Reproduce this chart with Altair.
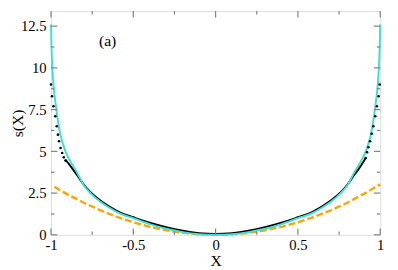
import altair as alt
import pandas as pd

# ---- data ----
cyan_x = [-1.0, -0.997, -0.992, -0.985, -0.97, -0.945, -0.912, -0.88, -0.843, -0.8, -0.76, -0.7, -0.65, -0.58, -0.5, -0.4, -0.3, -0.2, -0.1, 0.0,
          0.1, 0.2, 0.3, 0.4, 0.5, 0.58, 0.65, 0.7, 0.76, 0.8, 0.843, 0.88, 0.912, 0.945, 0.97, 0.985, 0.992, 0.997, 1.0]
cyan_y = [12.6, 11.3, 10.05, 9.0, 7.7, 6.1, 5.0, 4.35, 3.75, 2.95, 2.5, 1.98, 1.65, 1.27, 1.0, 0.64, 0.36, 0.16, 0.04, 0.0,
          0.04, 0.16, 0.36, 0.64, 1.0, 1.27, 1.65, 1.98, 2.5, 2.95, 3.75, 4.35, 5.0, 6.1, 7.7, 9.0, 10.05, 11.3, 12.6]

black_x = [-0.912, -0.88, -0.843, -0.8, -0.76, -0.7, -0.65, -0.58, -0.5, -0.4, -0.3, -0.2, -0.1, 0.0,
           0.1, 0.2, 0.3, 0.4, 0.5, 0.58, 0.65, 0.7, 0.76, 0.8, 0.843, 0.88, 0.912]
black_y = [4.5, 4.1, 3.6, 3.0, 2.55, 2.05, 1.72, 1.33, 1.05, 0.72, 0.45, 0.24, 0.1, 0.05,
           0.1, 0.24, 0.45, 0.72, 1.05, 1.33, 1.72, 2.05, 2.55, 3.0, 3.6, 4.1, 4.6]

dots_x = [-1.0, -0.994, -0.985, -0.974, -0.965, -0.958, -0.951, -0.942, -0.932, -0.922, -0.912,
          0.912, 0.92, 0.928, 0.938, 0.948, 0.958, 0.97, 0.98, 0.99, 0.997]
dots_y = [9.0, 8.3, 7.7, 7.1, 6.5, 6.0, 5.6, 5.2, 4.9, 4.65, 4.45,
          4.6, 4.95, 5.25, 5.6, 6.05, 6.5, 7.1, 7.7, 8.3, 9.0]

orange_x = [-0.98, -0.9, -0.8, -0.7, -0.6, -0.5, -0.4, -0.3, -0.2, -0.1, 0.0,
            0.1, 0.2, 0.3, 0.4, 0.5, 0.6, 0.7, 0.8, 0.9, 1.0]
orange_y = [2.88, 2.42, 1.92, 1.47, 1.08, 0.75, 0.48, 0.27, 0.12, 0.03, 0.0,
            0.03, 0.12, 0.27, 0.48, 0.75, 1.08, 1.47, 1.92, 2.45, 3.02]

x_major = [-1, -0.5, 0, 0.5, 1]
x_minor = [-0.75, -0.25, 0.25, 0.75]
y_major = [0, 2.5, 5, 7.5, 10, 12.5]
y_minor = [1.25, 3.75, 6.25, 8.75, 11.25]
panel_label = ["(a)"]

# ---- chart ----
W, H = 337, 229
FONT = "Liberation Serif"
GREY = "#808080"

xs = alt.Scale(domain=[-1, 1], nice=False, zero=False)
ys = alt.Scale(domain=[0, 13.4], nice=False, zero=False)
xaxis = alt.Axis(values=x_major, tickSize=0, domain=False, grid=False, labelPadding=3,
                 labelFont=FONT, labelFontSize=15, labelColor="black", labelFlush=False,
                 labelOverlap=False, labelExpr="'' + datum.value",
                 title="X", titleFont=FONT, titleFontSize=16, titleFontWeight="normal",
                 titleColor="black", titlePadding=0)
yaxis = alt.Axis(values=y_major, tickSize=0, domain=False, grid=False, labelPadding=5,
                 labelFont=FONT, labelFontSize=15, labelColor="black", labelFlush=False,
                 labelOverlap=False, labelExpr="'' + datum.value",
                 title="s(X)", titleFont=FONT, titleFontSize=16, titleFontWeight="normal",
                 titleColor="black", titlePadding=-5)
X = alt.X("x:Q", scale=xs, axis=xaxis)
Y = alt.Y("y:Q", scale=ys, axis=yaxis)

df_c = pd.DataFrame({"x": cyan_x, "y": cyan_y})
df_b = pd.DataFrame({"x": black_x, "y": black_y})
df_d = pd.DataFrame({"x": dots_x, "y": dots_y})
df_o = pd.DataFrame({"x": orange_x, "y": orange_y})

orange = alt.Chart(df_o).mark_line(color="#FFA500", strokeWidth=2.5, strokeDash=[7, 3]).encode(x=X, y=Y)
black = alt.Chart(df_b).mark_line(color="black", strokeWidth=2, interpolate="monotone").encode(x=X, y=Y)
cyan = alt.Chart(df_c).mark_line(color="#40E0D0", strokeWidth=2, interpolate="monotone").encode(x=X, y=Y)
dots = alt.Chart(df_d).mark_circle(color="black", size=7, opacity=1).encode(x=X, y=Y)

def yticks(vals, length):
    d = pd.DataFrame({"y": vals})
    left = alt.Chart(d).mark_rule(color=GREY, strokeWidth=1.2).encode(y=Y, x=alt.value(0), x2=alt.value(length))
    right = alt.Chart(d).mark_rule(color=GREY, strokeWidth=1.2).encode(y=Y, x=alt.value(W - length), x2=alt.value(W))
    return [left, right]

def xticks(vals, length):
    d = pd.DataFrame({"x": vals})
    bottom = alt.Chart(d).mark_rule(color=GREY, strokeWidth=1.2).encode(x=X, y=alt.value(H - length), y2=alt.value(H))
    top = alt.Chart(d).mark_rule(color=GREY, strokeWidth=1.2).encode(x=X, y=alt.value(0), y2=alt.value(length))
    return [bottom, top]

ticks = yticks(y_major, 6.5) + yticks(y_minor, 3.5) + xticks(x_major, 6.5) + xticks(x_minor, 3.5)

label = alt.Chart(pd.DataFrame({"t": panel_label})).mark_text(
    font=FONT, fontSize=16, align="center", baseline="middle", color="black"
).encode(text="t:N", x=alt.value(58), y=alt.value(31))

chart = alt.layer(orange, black, cyan, dots, *ticks, label).properties(
    width=W, height=H,
    autosize=alt.AutoSizeParams(type="none"),
    padding={"left": 44, "top": 0, "right": 10, "bottom": 40},
).configure_view(stroke=GREY, strokeWidth=1.5).configure(background="white")

chart.save("out.html", embed_options={"renderer": "svg", "actions": False})
